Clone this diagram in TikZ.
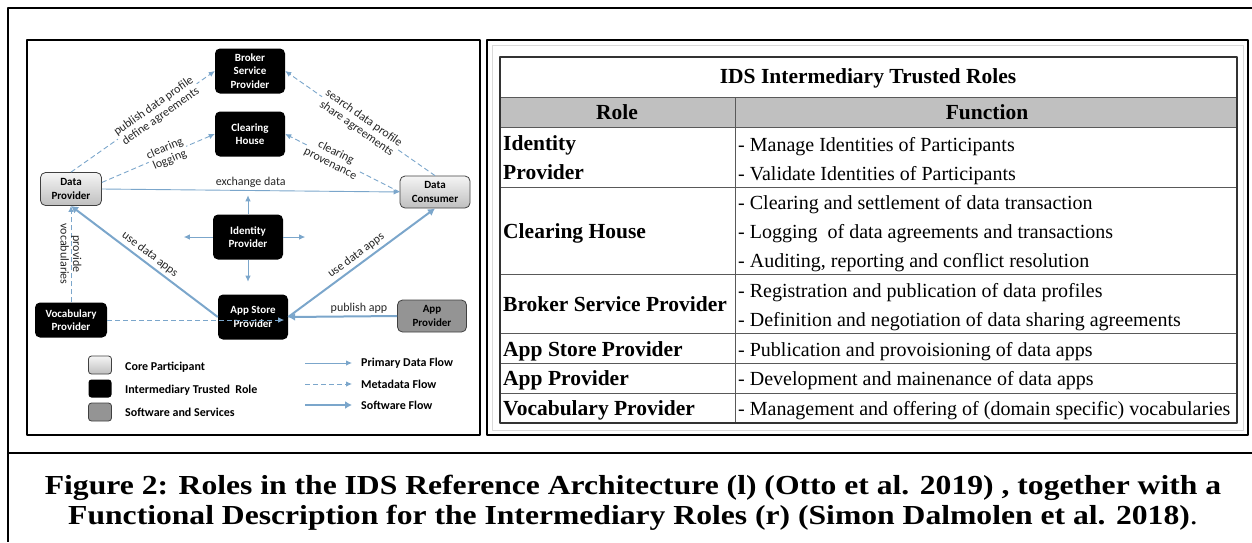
\documentclass[tikz,border=0pt]{standalone}
\usepackage{fontspec}
\setmainfont{Liberation Serif}
\newfontfamily\diafont{Carlito}
\newfontfamily\capfont[FakeStretch=1.15]{Liberation Serif}
\usetikzlibrary{arrows.meta}

\definecolor{flow}{HTML}{7BA6CB}
\definecolor{head}{HTML}{C0C0C0}

\tikzset{
  role/.style={fill=black,rounded corners=5pt,text=white,align=center,inner sep=0pt,
    font=\diafont\bfseries\fontsize{11}{13.5}\selectfont,minimum width=70pt,minimum height=45pt},
  core/.style={draw=black!75,line width=.8pt,rounded corners=5pt,top color=black!4,bottom color=black!25,
    text=black,align=center,inner sep=0pt,font=\diafont\bfseries\fontsize{11}{13.5}\selectfont},
  soft/.style={core,top color=black!42,bottom color=black!42},
  data/.style={draw=flow,line width=.9pt,-{Latex[length=6pt,width=5.5pt]}},
  meta/.style={data,dash pattern=on 5pt off 3pt},
  ware/.style={draw=flow,line width=2pt,-{Latex[length=7pt,width=8pt]}},
  lbl/.style={font=\diafont\fontsize{12}{12.5}\selectfont,align=center,text=black!85,inner sep=1pt},
  key/.style={font=\diafont\bfseries\fontsize{12}{13}\selectfont,anchor=west,inner sep=0pt},
  cell/.style={anchor=base west,inner sep=0pt,font=\fontsize{20}{24}\selectfont},
  bcell/.style={anchor=base west,inner sep=0pt,font=\bfseries\fontsize{21.5}{24}\selectfont},
}

\begin{document}
\begin{tikzpicture}[x=1pt,y=-1pt,line join=round]
\useasboundingbox (0,0) rectangle (1252,542);
% frames
\draw[line width=2pt] (1252,8) -- (8,8) -- (8,542);
\draw[line width=2pt] (8,453) -- (1252,453);
\draw[line width=2pt] (27,40) rectangle (480,435);
\draw[line width=2pt] (487,40) rectangle (1248,435);

% roles
\node[role] (B) at (250,71) {Broker\\Service\\Provider};
\node[role] (CH) at (250,134) {Clearing\\House};
\node[role] (I) at (248,237) {Identity\\Provider};
\node[role] (AS) at (253,317) {App Store\\Provider};
\node[role,minimum width=72pt,minimum height=35pt] (V) at (71,320) {Vocabulary\\Provider};
\node[core,minimum width=61pt,minimum height=33pt] (DP) at (71,189) {Data\\Provider};
\node[core,minimum width=70pt,minimum height=32pt] (DC) at (435,192) {Data\\Consumer};
\node[soft,minimum width=69pt,minimum height=32pt] (AP) at (432,316) {App\\Provider};

% flows
\draw[meta] (DP.north) -- node[lbl,sloped,fill=white,pos=.6] {publish data profile\\define agreements} (B.west);
\draw[meta] (DC.north) -- node[lbl,sloped,fill=white,pos=.5] {search data profile\\share agreements} (B.east);
\draw[meta] (DP.12) -- node[lbl,sloped,fill=white,pos=.58] {clearing\\logging} (CH.west);
\draw[meta] (DC.west) -- node[lbl,sloped,fill=white,pos=.58] {clearing\\provenance} (CH.east);
\draw[data] (DP.east) -- node[lbl,above=1pt] {exchange data} (DC.west);
\draw[data] (I.north) -- ++(0,-19);
\draw[data] (I.west) -- ++(-29,0);
\draw[data] (I.east) -- ++(22,0);
\draw[data] (I.south) -- ++(0,22);
\draw[ware] (AS.west) -- node[lbl,sloped,above=2pt] {use data apps} (DP.south);
\draw[ware] (AS.east) -- node[lbl,sloped,above=2pt] {use data apps} (DC.south);
\draw[ware] (AP.west) -- node[lbl,above=1pt,pos=.35] {publish app} (AS.east);
\draw[meta] (V.north) -- node[lbl,rotate=-90] {provide\\vocabularies} (DP.south);
\draw[meta,shorten >=4pt] (V.east) -- (AS.east |- V.east);

% legend
\node[core,rounded corners=3pt,minimum width=23pt,minimum height=18pt] (K1) at (100,365) {};
\node[role,rounded corners=3pt,minimum width=23pt,minimum height=18pt] (K2) at (100,388.5) {};
\node[soft,rounded corners=3pt,minimum width=23pt,minimum height=18pt] (K3) at (100,412) {};
\node[key] (L1) at (125,367) {Core Participant};
\node[key] (L2) at (125,390) {Intermediary Trusted\ \ Role};
\node[key] (L3) at (125,412) {Software and Services};
\node[key] (L4) at (361,363) {Primary Data Flow};
\node[key] (L5) at (361,384) {Metadata Flow};
\node[key] (L6) at (361,405) {Software Flow};
\draw[data] ([xshift=-56pt]L4.west) -- ([xshift=-9pt]L4.west);
\draw[meta] ([xshift=-56pt]L5.west) -- ([xshift=-9pt]L5.west);
\draw[ware] ([xshift=-56pt]L6.west) -- ([xshift=-9pt]L6.west);

% table
\draw[black!15,line width=.8pt] (492,45) rectangle (1243,430);
\fill[head] (500,97) rectangle (1237,127);
\draw[black!65,line width=.8pt] (500,97) -- (1237,97);
\draw[black!65,line width=.8pt] (500,127) -- (1237,127);
\draw[black!65,line width=.8pt] (500,187) -- (1237,187);
\draw[black!65,line width=.8pt] (500,274) -- (1237,274);
\draw[black!65,line width=.8pt] (500,333) -- (1237,333);
\draw[black!65,line width=.8pt] (500,363) -- (1237,363);
\draw[black!65,line width=.8pt] (500,393) -- (1237,393);
\draw[black!65,line width=.8pt] (735,97) -- (735,423);
\draw[black!80,line width=1.2pt] (500,57) rectangle (1237,423);

\node[bcell,anchor=base] (T) at (868,83) {IDS Intermediary Trusted Roles};
\node[bcell,anchor=base] (H1) at (617,119) {Role};
\node[bcell,anchor=base] (H2) at (987,119) {Function};

\node[bcell] (R1) at (503,150) {Identity};
\node[bcell] (R1b) at (503,179) {Provider};
\node[bcell] (R2) at (503,238) {Clearing House};
\node[bcell] (R3) at (503,311) {Broker Service Provider};
\node[bcell] (R4) at (503,356) {App Store Provider};
\node[bcell] (R5) at (503,385) {App Provider};
\node[bcell] (R6) at (503,415) {Vocabulary Provider};

\node[cell] (F1) at (738,151) {- Manage Identities of Participants};
\node[cell] (F2) at (738,180) {- Validate Identities of Participants};
\node[cell] (F3) at (738,209) {- Clearing and settlement of data transaction};
\node[cell] (F4) at (738,238) {- Logging\ \ of data agreements and transactions};
\node[cell] (F5) at (738,267) {- Auditing, reporting and conflict resolution};
\node[cell] (F6) at (738,297) {- Registration and publication of data profiles};
\node[cell] (F7) at (738,326) {- Definition and negotiation of data sharing agreements};
\node[cell] (F8) at (738,356) {- Publication and provoisioning of data apps};
\node[cell] (F9) at (738,385) {- Development and mainenance of data apps};
\node[cell] (F10) at (738,415) {- Management and offering of (domain specific) vocabularies};

% caption
\node[anchor=base,inner sep=0pt,font=\capfont\bfseries\fontsize{27.5}{30}\selectfont] (C1) at (633,494) {Figure 2: Roles in the IDS Reference Architecture (l) (Otto et al. 2019) , together with a};
\node[anchor=base,inner sep=0pt,font=\capfont\bfseries\fontsize{27.5}{30}\selectfont] (C2) at (633,524) {Functional Description for the Intermediary Roles (r) (Simon Dalmolen et al. 2018)\mdseries.};
\end{tikzpicture}
\end{document}
